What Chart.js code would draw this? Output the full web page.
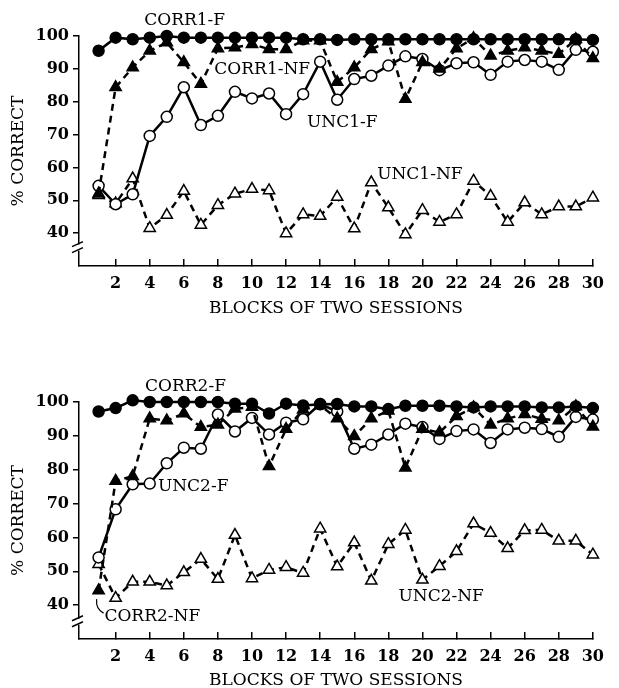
<!DOCTYPE html>
<html>
<head>
<meta charset="utf-8">
<script src="https://cdn.jsdelivr.net/npm/chart.js@4.4.1/dist/chart.umd.min.js"></script>
<style>
body { margin: 0; background: #fff; }
#topBox { position: absolute; left: 0; top: 0; width: 619px; height: 330px; }
#bottomBox { position: absolute; left: 0; top: 344px; width: 619px; height: 344px; }
</style>
</head>
<body>
<div id="topBox"><canvas id="chart1"></canvas></div>
<div id="bottomBox"><canvas id="chart2"></canvas></div>
<script>
// Blocks of two sessions (x values)
const blocks = [1,2,3,4,5,6,7,8,9,10,11,12,13,14,15,16,17,18,19,20,21,22,23,24,25,26,27,28,29,30];
const xTicks = [2,4,6,8,10,12,14,16,18,20,22,24,26,28,30];
const yTicks = [40,50,60,70,80,90,100];

// Panel 1 (% correct)
const corr1F  = [95.5,99.5,99,99.5,100,99.5,99.5,99.5,99.5,99.5,99.5,99.5,99,99,98.8,99,99,99,99,99,99,99,99,99,99,99,99,99,99,98.8];
const corr1NF = [52,84.4,90.4,95.5,98,92,85.4,96.2,96.5,97.5,96,96,98.6,98.6,86,90.4,96,98.3,80.8,92,90,96.2,99.3,94,95.5,96.5,95.5,94.5,99,93.2];
const unc1F   = [54.4,48.8,51.8,69.6,75.4,84.4,72.9,75.7,83,81,82.5,76.2,82.3,92.2,80.6,86.9,87.9,91,93.8,93,89.6,91.7,92,88.2,92.2,92.7,92.2,89.7,95.8,95.2];
const unc1NF  = [51.5,49,56.6,41.5,45.5,52.8,42.5,48.5,52,53.4,53,39.9,45.7,45.2,51,41.4,55.4,47.8,39.6,47,43.4,45.7,55.9,51.3,43.4,49.3,45.7,48.1,48.1,50.8];

// Panel 2 (% correct)
const corr2F  = [97.2,98.2,100.5,100,100,100,100,100,99.5,99.5,96.6,99.5,99,99.3,99.4,98.7,98.7,97.9,98.9,98.9,98.9,98.7,98.4,98.7,98.7,98.7,98.4,98.4,98.7,98.2];
const corr2NF = [44.3,76.7,78.1,95.1,94.5,96.6,92.6,93.3,98,98.5,81,92,97.7,99,95.1,89.9,95.1,97.4,80.6,92,91,95.8,98.4,93.3,95.1,96.4,95,94.5,98.7,92.7];
const unc2F   = [54.1,68.3,75.7,75.9,81.9,86.5,86.2,96.3,91.3,95.3,90.4,93.9,94.9,99.4,97.2,86.2,87.4,90.4,93.6,92.6,89.1,91.4,91.9,87.9,91.9,92.4,92,89.7,95.6,94.8];
const unc2NF  = [52.1,42.1,46.9,46.9,45.8,49.7,53.6,47.7,60.7,47.9,50.4,51.2,49.5,62.6,51.4,58.5,47.2,58,62.2,47.5,51.5,55.9,64.1,61.3,56.8,62.1,62.2,59,59,54.9];

// Curve labels, placed in data coordinates
const notes1 = [
  { text: 'CORR1-F',  x: 6.05,  y: 104.8 },
  { text: 'CORR1-NF', x: 10.6,  y: 89.9 },
  { text: 'UNC1-F',   x: 15.3,  y: 73.8 },
  { text: 'UNC1-NF',  x: 19.85, y: 57.9 }
];
const notes2 = [
  { text: 'CORR2-F',  x: 6.1,  y: 104.5 },
  { text: 'UNC2-F',   x: 6.55, y: 75.1 },
  { text: 'CORR2-NF', x: 4.15, y: 36.7, bracket: true },
  { text: 'UNC2-NF',  x: 21.1, y: 42.4 }
];

const FONT = "'DejaVu Serif', 'Liberation Serif', serif";

function toPoints(values) {
    return blocks.map((b, i) => ({ x: b, y: values[i] }));
}

function series(values, filled, marker, dashed) {
    return {
        data: toPoints(values),
        borderColor: '#000',
        borderWidth: 2.5,
        borderDash: dashed ? [7, 5] : [],
        pointStyle: marker,
        pointRadius: marker === 'triangle' ? 6.5 : 5.5,
        pointBackgroundColor: filled ? '#000' : '#fff',
        pointBorderColor: '#000',
        pointBorderWidth: 1.5,
        tension: 0,
        clip: false
    };
}

// Draws curve names, the axis break and the small bracket
const decorations = {
    id: 'decorations',
    afterDraw(chart, args, opts) {
        const ctx = chart.ctx;
        const xs = chart.scales.x, ys = chart.scales.y;
        ctx.save();
        ctx.fillStyle = '#000';
        ctx.font = '17px ' + FONT;
        ctx.textAlign = 'center';
        ctx.textBaseline = 'middle';
        opts.notes.forEach(n => {
            const px = xs.getPixelForValue(n.x), py = ys.getPixelForValue(n.y);
            ctx.fillText(n.text, px, py);
            if (n.bracket) {
                const bx = xs.getPixelForValue(1), by = ys.getPixelForValue(40);
                ctx.beginPath();
                ctx.lineWidth = 1.2;
                ctx.moveTo(bx - 2, by - 6);
                ctx.quadraticCurveTo(bx - 3, by + 4, bx + 5, by + 8);
                ctx.stroke();
            }
        });
        // axis break
        const left = chart.chartArea.left;
        const yb = ys.getPixelForValue(opts.breakAt);
        ctx.fillStyle = '#fff';
        ctx.fillRect(left - 2, yb - 3, 4, 6);
        ctx.strokeStyle = '#000';
        ctx.lineWidth = 1.5;
        ctx.beginPath();
        ctx.moveTo(left - 7, yb - 1); ctx.lineTo(left + 4, yb - 6);
        ctx.moveTo(left - 7, yb + 5); ctx.lineTo(left + 4, yb);
        ctx.stroke();
        ctx.restore();
    }
};

function makeChart(id, data, notes, padTop, xHeight, titlePad, breakAt) {
    const ctx = document.getElementById(id).getContext('2d');
    return new Chart(ctx, {
        type: 'line',
        data: {
            datasets: [
                series(data[0], true, 'circle', false),
                series(data[1], true, 'triangle', true),
                series(data[2], false, 'circle', false),
                series(data[3], false, 'triangle', true)
            ]
        },
        options: {
            responsive: true,
            maintainAspectRatio: false,
            animation: false,
            layout: { padding: { top: padTop, right: 14, left: 0, bottom: 0 } },
            plugins: {
                legend: { display: false },
                tooltip: { enabled: false },
                decorations: { notes: notes, breakAt: breakAt }
            },
            scales: {
                x: {
                    type: 'linear',
                    min: -0.15,
                    max: 30,
                    afterBuildTicks: s => { s.ticks = xTicks.map(v => ({ value: v })); },
                    afterFit: s => { s.height = xHeight; },
                    grid: { drawOnChartArea: false, tickLength: -7, color: '#000', lineWidth: 1.5 },
                    border: { display: true, color: '#000', width: 1.5 },
                    ticks: { color: '#000', padding: 15, maxRotation: 0, font: { family: FONT, size: 16, weight: 'bold' } },
                    title: {
                        display: true,
                        text: 'BLOCKS OF TWO SESSIONS',
                        color: '#000',
                        font: { family: FONT, size: 17, lineHeight: 1 },
                        padding: { top: 0, bottom: titlePad }
                    }
                },
                y: {
                    min: 30,
                    max: 100,
                    afterBuildTicks: s => { s.ticks = yTicks.map(v => ({ value: v })); },
                    afterFit: s => { s.width = 79; },
                    grid: { drawOnChartArea: false, tickLength: 6, color: '#000', lineWidth: 1.5 },
                    border: { display: true, color: '#000', width: 1.5 },
                    ticks: { color: '#000', padding: 4, font: { family: FONT, size: 16, weight: 'bold' } },
                    title: {
                        display: true,
                        text: '% CORRECT',
                        color: '#000',
                        font: { family: FONT, size: 17, lineHeight: 1 },
                        padding: { top: 10, bottom: 0 }
                    }
                }
            }
        },
        plugins: [decorations]
    });
}

makeChart('chart1', [corr1F, corr1NF, unc1F, unc1NF], notes1, 36, 64, 13, 35.6);
makeChart('chart2', [corr2F, corr2NF, unc2F, unc2NF], notes2, 58, 49, -1, 35.1);
</script>
</body>
</html>
